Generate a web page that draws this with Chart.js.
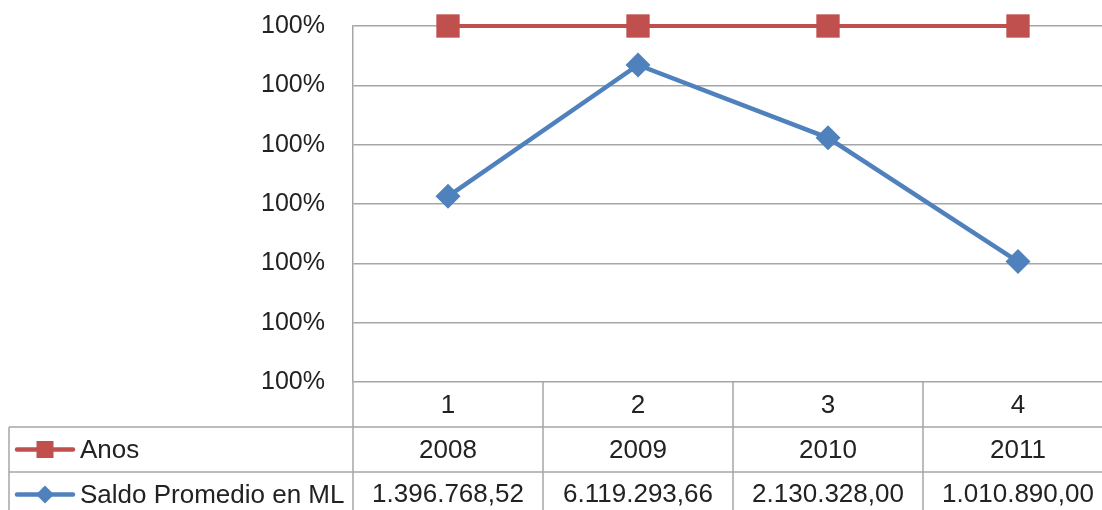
<!DOCTYPE html>
<html>
<head>
<meta charset="utf-8">
<script src="https://cdn.jsdelivr.net/npm/chart.js@4.4.1/dist/chart.umd.min.js"></script>
<style>
  html, body { margin: 0; padding: 0; background: #fff; overflow: hidden; }
  canvas { display: block; }
</style>
</head>
<body>
<canvas id="chart" width="1116" height="510"></canvas>
<script>
// categorías y series (tabla de datos)
const categories = ['1', '2', '3', '4'];
const anos = [2008, 2009, 2010, 2011];
const saldo = [1396768.52, 6119293.66, 2130328.00, 1010890.00];
const seriesNames = ['Anos', 'Saldo Promedio en ML'];
const yMin = 99.7, yMax = 100, yStep = 0.05;

const RED = '#C0504D', BLUE = '#4F81BD', GRID = '#a6a6a6', TEXT = '#222';
const FONT = '26px "Liberation Sans", Arial, sans-serif';

// línea 100% apilada: Saldo abajo, Anos encima (acumulado)
const saldoPct = saldo.map((s, i) => s / (s + anos[i]) * 100);
const anosPct = saldo.map((s, i) => (s + anos[i]) / (s + anos[i]) * 100);

// 1.396.768,52
function fmt(n) {
  const [ent, dec] = n.toFixed(2).split('.');
  return ent.replace(/\B(?=(\d{3})+(?!\d))/g, '.') + ',' + dec;
}

const tablePlugin = {
  id: 'dataTable',
  afterDraw(chart) {
    const { ctx, chartArea: a, scales: { x } } = chart;
    const colW = x.getPixelForValue(1) - x.getPixelForValue(0);
    const rowH = 45;
    const top = a.bottom, r1 = top + rowH, r2 = r1 + rowH, bot = r2 + rowH;
    const left = 9;

    ctx.save();
    ctx.strokeStyle = GRID;
    ctx.lineWidth = 1.5;
    ctx.beginPath();
    [r1, r2, bot].forEach(y => { ctx.moveTo(left, y); ctx.lineTo(a.right, y); });
    ctx.moveTo(left, r1); ctx.lineTo(left, bot);
    for (let i = 0; i <= categories.length; i++) {
      const xx = a.left + i * colW;
      ctx.moveTo(xx, top); ctx.lineTo(xx, bot);
    }
    ctx.stroke();

    ctx.font = FONT;
    ctx.fillStyle = TEXT;
    ctx.textAlign = 'center';
    ctx.textBaseline = 'middle';
    categories.forEach((c, i) => {
      const cx = x.getPixelForValue(i);
      ctx.fillText(c, cx, top + rowH / 2 + 1);
      ctx.fillText(String(anos[i]), cx, r1 + rowH / 2 + 1);
      ctx.fillText(fmt(saldo[i]), cx, r2 + rowH / 2);
    });

    // claves de leyenda
    const keys = [
      { y: r1 + rowH / 2, color: RED, shape: 'rect' },
      { y: r2 + rowH / 2, color: BLUE, shape: 'diamond' }
    ];
    keys.forEach((k, i) => {
      ctx.strokeStyle = k.color;
      ctx.fillStyle = k.color;
      ctx.lineWidth = 4.5;
      ctx.lineCap = 'round';
      ctx.beginPath();
      ctx.moveTo(17, k.y); ctx.lineTo(73, k.y);
      ctx.stroke();
      ctx.beginPath();
      if (k.shape === 'rect') {
        ctx.rect(45 - 8.5, k.y - 8.5, 17, 17);
      } else {
        ctx.moveTo(45 - 9, k.y); ctx.lineTo(45, k.y - 9);
        ctx.lineTo(45 + 9, k.y); ctx.lineTo(45, k.y + 9);
        ctx.closePath();
      }
      ctx.fill();
      ctx.fillStyle = TEXT;
      ctx.textAlign = 'left';
      ctx.fillText(seriesNames[i], 80, k.y + 1);
    });
    ctx.restore();
  }
};

new Chart(document.getElementById('chart'), {
  type: 'line',
  data: {
    labels: categories,
    datasets: [
      {
        label: seriesNames[0], data: anosPct,
        borderColor: RED, backgroundColor: RED, borderWidth: 4,
        pointStyle: 'rect', pointRadius: 16.5, pointHoverRadius: 16.5,
        pointBorderWidth: 0, clip: false, tension: 0
      },
      {
        label: seriesNames[1], data: saldoPct,
        borderColor: BLUE, backgroundColor: BLUE, borderWidth: 4.5,
        pointStyle: 'rectRot', pointRadius: 12.5, pointHoverRadius: 12.5,
        pointBorderWidth: 0, clip: false, tension: 0
      }
    ]
  },
  options: {
    responsive: false,
    animation: false,
    events: [],
    layout: { autoPadding: false, padding: { top: 26, right: 3, bottom: 128, left: 0 } },
    plugins: { legend: { display: false }, title: { display: false }, tooltip: { enabled: false } },
    scales: {
      x: { display: false, offset: true },
      y: {
        min: yMin, max: yMax,
        afterFit: s => { s.width = 353; s.paddingTop = 0; s.paddingBottom = 0; },
        ticks: {
          stepSize: yStep, padding: 28, color: TEXT,
          font: { family: '"Liberation Sans", Arial, sans-serif', size: 25 },
          callback: v => Math.round(v) + '%'
        },
        grid: { color: GRID, lineWidth: 1.5, drawTicks: false },
        border: { display: true, color: GRID, width: 1.5 }
      }
    }
  },
  plugins: [tablePlugin]
});
</script>
</body>
</html>
